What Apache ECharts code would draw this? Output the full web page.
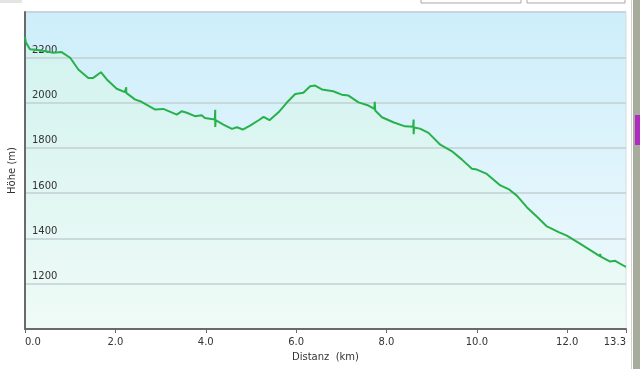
<!DOCTYPE html>
<html><head><meta charset="utf-8">
<script src="https://cdn.jsdelivr.net/npm/echarts@6/dist/echarts.min.js"></script>
<style>html,body{margin:0;padding:0;background:#fff}#c{width:640px;height:369px}</style>
</head><body><div id="c"></div>
<script>
var distKm = [0, 0.02, 0.11, 0.33, 0.63, 0.81, 1.0, 1.18, 1.40, 1.51, 1.68, 1.81, 2.03, 2.21, 2.24, 2.24, 2.25, 2.44, 2.55, 2.88, 3.06, 3.36, 3.47, 3.58, 3.76, 3.91, 3.98, 4.20, 4.21, 4.21, 4.22, 4.39, 4.58, 4.69, 4.82, 4.98, 5.17, 5.28, 5.41, 5.61, 5.79, 5.98, 6.16, 6.31, 6.42, 6.57, 6.82, 6.83, 6.84, 7.01, 7.16, 7.38, 7.60, 7.73, 7.74, 7.75, 7.90, 8.15, 8.41, 8.59, 8.60, 8.60, 8.61, 8.74, 8.93, 9.19, 9.45, 9.67, 9.89, 10.0, 10.22, 10.52, 10.70, 10.89, 11.11, 11.36, 11.55, 11.81, 11.99, 12.29, 12.72, 12.73, 12.74, 12.95, 13.06, 13.28, 13.3];
var elevM  = [2290, 2265, 2235, 2231, 2220, 2223, 2198, 2146, 2109, 2109, 2134, 2102, 2061, 2046, 2068, 2043, 2045, 2013, 2006, 1969, 1972, 1947, 1962, 1955, 1940, 1944, 1932, 1925, 1968, 1892, 1922, 1903, 1884, 1891, 1881, 1898, 1922, 1937, 1922, 1957, 1999, 2038, 2043, 2072, 2075, 2058, 2050, 2058, 2049, 2035, 2031, 2001, 1987, 1972, 2003, 1965, 1935, 1913, 1895, 1893, 1925, 1860, 1890, 1885, 1866, 1814, 1785, 1748, 1708, 1704, 1685, 1634, 1618, 1588, 1537, 1490, 1453, 1428, 1412, 1376, 1322, 1332, 1320, 1298, 1301, 1276, 1275];
var xTicks = ['0.0','2.0','4.0','6.0','8.0','10.0','12.0','13.3'];
var yTicks = [1200, 1400, 1600, 1800, 2000, 2200];

var pts = distKm.map(function(d,i){return [d, elevM[i]];});
var chart = echarts.init(document.getElementById('c'));
var font = 'DejaVu Sans';
chart.setOption({
  animation: false,
  backgroundColor: '#fff',
  graphic: [
    {type:'rect', shape:{x:0,y:-2,width:22,height:5}, style:{fill:'#e4e4e4'}},
    {type:'rect', shape:{x:421,y:-4,width:100,height:7}, style:{fill:'#fff', stroke:'#a8a8a8', lineWidth:1}},
    {type:'rect', shape:{x:527,y:-4,width:98,height:7}, style:{fill:'#fff', stroke:'#a8a8a8', lineWidth:1}},
    {type:'rect', shape:{x:631,y:0,width:1,height:369}, style:{fill:'#d0d0d0'}},
    {type:'rect', shape:{x:633,y:0,width:7,height:369}, style:{fill:'#a7ab9c'}},
    {type:'rect', shape:{x:635,y:115,width:5,height:30}, style:{fill:'#b02cc0'}}
  ],
  grid: {
    left: 25, right: 14, top: 12, bottom: 40,
    outerBoundsMode: 'none', containLabel: false,
    show: true,
    borderColor: '#d6dcdf', borderWidth: 1,
    backgroundColor: new echarts.graphic.LinearGradient(0,0,0,1,[
      {offset:0, color:'#cdeefa'},{offset:1, color:'#f1fafd'}])
  },
  xAxis: {
    type: 'value', min: 0, max: 13.3, interval: 2, z: 6,
    name: 'Distanz  (km)', nameLocation: 'middle', nameGap: 23,
    nameTextStyle: {fontFamily: font, fontSize: 10, color: '#333'},
    axisLine: {show: true, lineStyle: {color: '#6a6a6a', width: 2}},
    axisTick: {show: true, length: 4, lineStyle: {color: '#6a6a6a', width: 1}},
    splitLine: {show: false},
    axisLabel: {
      fontFamily: font, fontSize: 10, color: '#333', margin: 8,
      alignMinLabel: 'left', alignMaxLabel: 'right',
      showMinLabel: true, showMaxLabel: true,
      formatter: function(v){
        for (var i=0;i<xTicks.length;i++){ if (Math.abs(parseFloat(xTicks[i])-v)<1e-6) return xTicks[i]; }
        return v.toFixed(1);
      }
    }
  },
  yAxis: {
    type: 'value', min: 1000, max: 2400, interval: 200, z: 3,
    name: 'Höhe (m)', nameLocation: 'middle', nameGap: 2, nameRotate: 90,
    nameTextStyle: {fontFamily: font, fontSize: 10, color: '#333'},
    axisLine: {show: true, lineStyle: {color: '#6a6a6a', width: 2}},
    axisTick: {show: false},
    splitLine: {show: true, lineStyle: {color: '#c3cfd3', width: 1.5}},
    axisLabel: {
      inside: true, fontFamily: font, fontSize: 10, color: '#333',
      verticalAlign: 'bottom', margin: 7, padding: [0,0,2,0],
      formatter: function(v){ return yTicks.indexOf(v) >= 0 ? String(v) : ''; }
    }
  },
  series: [{
    type: 'line', data: pts, showSymbol: false, symbol: 'none',
    lineStyle: {width: 0, opacity: 0},
    areaStyle: {
      origin: 'start',
      color: new echarts.graphic.LinearGradient(0,0,0,1,[
        {offset:0, color:'#d3f4ea'},{offset:1, color:'#eefbf3'}])
    },
    z: 1
  }, {
    type: 'line', data: pts, showSymbol: false, symbol: 'none',
    lineStyle: {color: '#27b14b', width: 2},
    z: 5
  }]
});
</script></body></html>
